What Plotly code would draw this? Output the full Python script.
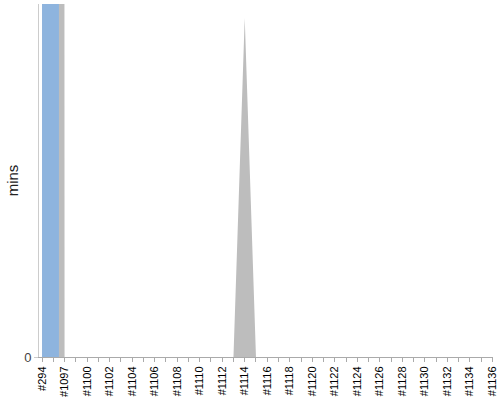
import plotly.graph_objects as go

categories = ["#294", "#1096", "#1097", "#1099"] + ["#%d" % n for n in range(1100, 1137)]
# values in mins; first two points are far above the visible window
HUGE = 10000
grey_values = [HUGE, HUGE, 0] + [0] * 15 + [96] + [0] * 22
blue_values = [HUGE, HUGE, 0] + [0] * 38
tick_labels = [c if i % 2 == 0 else "" for i, c in enumerate(categories)]

fig = go.Figure()
fig.add_trace(go.Scatter(
    x=categories, y=grey_values, mode="lines", fill="tozeroy",
    line=dict(width=0, color="#bdbdbd"), fillcolor="#bdbdbd",
    hoverinfo="skip", showlegend=False,
))
fig.add_trace(go.Scatter(
    x=categories, y=blue_values, mode="lines", fill="tozeroy",
    line=dict(width=0, color="#8eb4de", shape="hvh"), fillcolor="#8eb4de",
    hoverinfo="skip", showlegend=False,
))

fig.update_layout(
    width=500, height=400,
    margin=dict(l=39, r=7.4, t=4, b=43, autoexpand=False),
    paper_bgcolor="white", plot_bgcolor="white",
    font=dict(family="Liberation Sans, Arial, sans-serif", color="#222222"),
    xaxis=dict(
        type="category", range=[-0.27, 40.05], automargin=False,
        tickmode="array", tickvals=categories, ticktext=tick_labels,
        tickangle=-90, tickfont=dict(size=11, color="#000000"),
        showline=True, linecolor="#aaaaaa", linewidth=1,
        ticks="outside", ticklen=4, tickcolor="#aaaaaa",
        showgrid=False, zeroline=False,
    ),
    yaxis=dict(
        range=[0, 100], tickmode="array", tickvals=[0], ticktext=["0"],
        automargin=False,
        tickfont=dict(size=13, color="#444444"),
        showline=True, linecolor="#cccccc", linewidth=1,
        ticks="outside", ticklen=4, tickcolor="#cccccc",
        showgrid=False, zeroline=False,
        title=dict(text="mins", font=dict(size=15, color="#222222"), standoff=1),
    ),
)

fig.write_html(
    "out.html",
    config={"displayModeBar": False},
    post_script="document.body.style.margin='0';document.body.style.overflow='hidden';",
)
